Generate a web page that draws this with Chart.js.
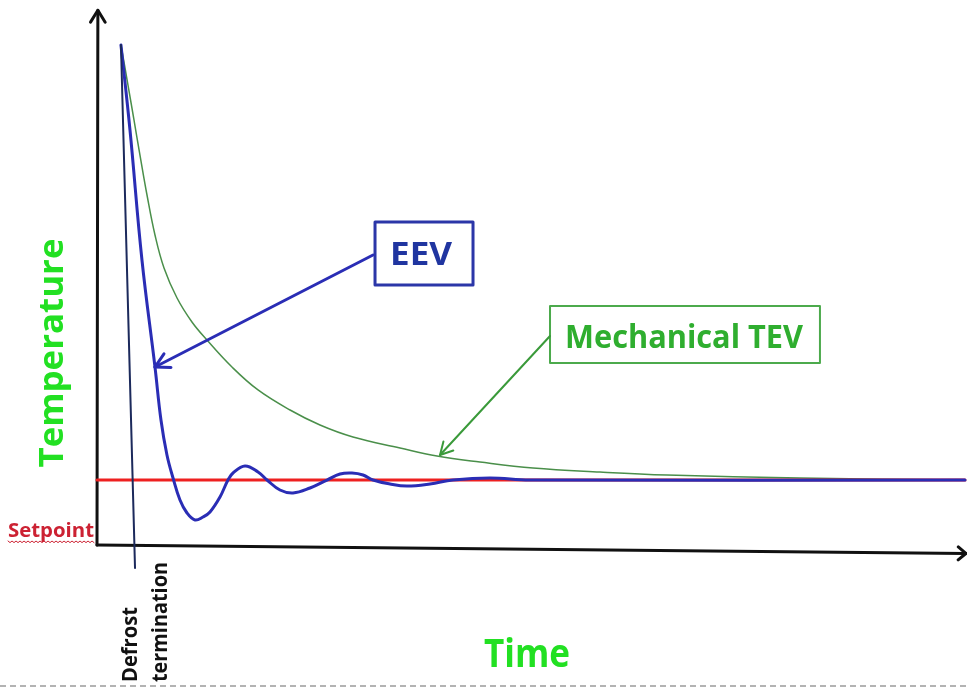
<!DOCTYPE html>
<html><head><meta charset="utf-8">
<script src="https://cdn.jsdelivr.net/npm/chart.js@4.4.1/dist/chart.umd.min.js"></script>
<style>html,body{margin:0;padding:0;background:#fff;}canvas{display:block;}</style>
</head><body>
<canvas id="c" width="967" height="688"></canvas>
<script>
// ---- Data (time and temperature in % of axis length) ----
const eevTime = [2.76, 3.80, 5.18, 6.68, 7.37, 8.06, 8.76, 9.56, 10.37, 11.29, 12.21, 13.02, 14.17, 15.09, 15.67, 17.05, 18.55, 19.59, 21.08, 22.58, 24.54, 26.50, 28.00, 29.38, 30.65, 31.80, 33.76, 35.71, 38.36, 41.01, 45.28, 49.88, 100];
const eevTemp = [94.34, 78.30, 53.77, 33.58, 23.58, 16.98, 12.64, 8.49, 6.04, 4.72, 5.28, 6.23, 9.06, 12.26, 13.58, 14.91, 13.77, 12.26, 10.38, 9.81, 10.75, 12.26, 13.40, 13.58, 13.21, 12.26, 11.51, 11.13, 11.51, 12.26, 12.64, 12.26, 12.26];
const tevTime = [2.76, 3.57, 4.26, 4.95, 5.76, 6.68, 7.72, 9.22, 10.94, 12.67, 15.55, 18.55, 22.24, 25.69, 29.49, 34.91, 39.17, 44.12, 50.23, 57.95, 65.67, 80.99, 100];
const tevTemp = [94.34, 86.79, 80.19, 73.58, 66.04, 58.49, 52.26, 46.60, 42.08, 38.68, 33.58, 29.25, 25.47, 22.64, 20.38, 18.30, 16.79, 15.66, 14.53, 13.77, 13.21, 12.64, 12.26];
const setpointTime = [0, 100];
const setpointTemp = [12.26, 12.26];
const defrostTime = [2.76, 4.38];
const defrostTemp = [94.34, -4.34];
const seriesNames = ['EEV', 'Mechanical TEV', 'Setpoint', 'Defrost termination'];

function pts(xs, ys) { return xs.map((x, i) => ({ x: x, y: ys[i] })); }

// ---- Annotation layout (in data units; sizes in px) ----
const annot = {
  eevBox: { x0: 32.03, x1: 43.32, y0: 60.94, y1: 49.06, color: '#2b36a8', lw: 3 },
  tevBox: { x0: 52.19, x1: 83.29, y0: 45.09, y1: 34.34, color: '#4caa4c', lw: 2 },
  eevArrow: { from: [31.80, 54.72], to: [6.68, 33.58], color: '#2a2db5', lw: 3, head: 16 },
  tevArrow: { from: [52.19, 39.43], to: [39.52, 16.98], color: '#3a9a3a', lw: 2, head: 14 },
  texts: [
    { text: 'EEV', x: 37.33, y: 52.74, rot: 0, cap: 23, width: 62, color: '#2035a0', align: 'center' },
    { text: 'Mechanical TEV', x: 67.63, y: 37.17, rot: 0, cap: 23, width: 238, color: '#2fae2f', align: 'center' },
    { text: 'Temperature', x: -3.92, y: 36.23, rot: -Math.PI / 2, cap: 24, width: 229, color: '#22e022', align: 'center' },
    { text: 'Time', x: 49.54, y: -23.02, rot: 0, cap: 28, width: 86, color: '#22e022', align: 'center' },
    { text: 'Setpoint', x: -10.25, y: 1.60, rot: 0, cap: 13.5, width: 86, color: '#cc2233', align: 'left', wavy: true },
    { text: 'Defrost', x: 4.61, y: -25.85, rot: -Math.PI / 2, cap: 15, width: 75, color: '#111111', align: 'left' },
    { text: 'termination', x: 8.06, y: -25.85, rot: -Math.PI / 2, cap: 15, width: 120, color: '#111111', align: 'left' }
  ]
};

function P(chart, x, y) {
  return [chart.scales.x.getPixelForValue(x), chart.scales.y.getPixelForValue(y)];
}
function arrowHead(ctx, tx, ty, fx, fy, len, ang) {
  const a = Math.atan2(fy - ty, fx - tx);
  ctx.beginPath();
  ctx.moveTo(tx + len * Math.cos(a + ang), ty + len * Math.sin(a + ang));
  ctx.lineTo(tx, ty);
  ctx.lineTo(tx + len * Math.cos(a - ang), ty + len * Math.sin(a - ang));
  ctx.stroke();
}

const deco = {
  id: 'deco',
  beforeDraw(chart) {
    const ctx = chart.ctx;
    ctx.save(); ctx.fillStyle = '#fff'; ctx.fillRect(0, 0, chart.width, chart.height); ctx.restore();
  },
  beforeDatasetsDraw(chart) {
    const ctx = chart.ctx;
    ctx.save();
    ctx.strokeStyle = '#111'; ctx.lineWidth = 3; ctx.lineCap = 'round'; ctx.lineJoin = 'round';
    const o = P(chart, 0, 0), yt = P(chart, 0.1, 100.9);
    ctx.beginPath(); ctx.moveTo(o[0], o[1]); ctx.lineTo(yt[0], yt[1]); ctx.stroke();
    arrowHead(ctx, yt[0], yt[1], o[0], o[1], 14, 0.55);
    const xt = P(chart, 100.1, -1.6);
    ctx.beginPath(); ctx.moveTo(o[0], o[1]); ctx.lineTo(xt[0], xt[1]); ctx.stroke();
    arrowHead(ctx, xt[0], xt[1], o[0], o[1], 10, 0.7);
    ctx.lineWidth = 1.5; ctx.strokeStyle = '#9a9a9a'; ctx.setLineDash([6, 4]); ctx.lineCap = 'butt';
    ctx.beginPath(); ctx.moveTo(0, chart.height - 2); ctx.lineTo(chart.width, chart.height - 2); ctx.stroke();
    ctx.restore();
  },
  afterDatasetsDraw(chart) {
    const ctx = chart.ctx;
    ctx.save();
    ctx.lineCap = 'round'; ctx.lineJoin = 'round';
    [annot.eevBox, annot.tevBox].forEach(b => {
      const a = P(chart, b.x0, b.y0), c = P(chart, b.x1, b.y1);
      ctx.fillStyle = '#fff';
      ctx.fillRect(a[0], a[1], c[0] - a[0], c[1] - a[1]);
      ctx.strokeStyle = b.color; ctx.lineWidth = b.lw;
      ctx.strokeRect(a[0], a[1], c[0] - a[0], c[1] - a[1]);
    });
    [annot.eevArrow, annot.tevArrow].forEach(r => {
      const f = P(chart, r.from[0], r.from[1]), t = P(chart, r.to[0], r.to[1]);
      ctx.strokeStyle = r.color; ctx.lineWidth = r.lw;
      ctx.beginPath(); ctx.moveTo(f[0], f[1]); ctx.lineTo(t[0], t[1]); ctx.stroke();
      arrowHead(ctx, t[0], t[1], f[0], f[1], r.head, 0.5);
    });
    annot.texts.forEach(t => {
      const p = P(chart, t.x, t.y);
      const size = t.cap / 0.714;
      ctx.save();
      ctx.font = 'bold ' + size.toFixed(1) + 'px "Open Sans", "Liberation Sans", sans-serif';
      const w = ctx.measureText(t.text).width;
      ctx.translate(p[0], p[1]);
      ctx.rotate(t.rot);
      ctx.scale(t.width / w, 1);
      ctx.textAlign = t.align; ctx.textBaseline = 'alphabetic';
      ctx.fillStyle = t.color;
      ctx.fillText(t.text, 0, 0);
      ctx.restore();
      if (t.wavy) {
        ctx.save();
        ctx.strokeStyle = t.color; ctx.lineWidth = 1;
        ctx.beginPath();
        const y0 = p[1] + 4.5;
        for (let x = 0; x <= t.width; x += 2) {
          const yy = y0 + ((x / 2) % 2 === 0 ? 0 : 1.6);
          if (x === 0) ctx.moveTo(p[0] + x, yy); else ctx.lineTo(p[0] + x, yy);
        }
        ctx.stroke();
        ctx.restore();
      }
    });
    ctx.restore();
  }
};

new Chart(document.getElementById('c'), {
  type: 'scatter',
  data: {
    datasets: [
      { label: seriesNames[3], data: pts(defrostTime, defrostTemp), showLine: true, borderColor: '#1c2a5c', borderWidth: 2, pointRadius: 0, tension: 0, clip: false, order: 0 },
      { label: seriesNames[0], data: pts(eevTime, eevTemp), showLine: true, borderColor: '#2a2db5', borderWidth: 3, pointRadius: 0, tension: 0.4, clip: false, order: 1 },
      { label: seriesNames[2], data: pts(setpointTime, setpointTemp), showLine: true, borderColor: '#ee2020', borderWidth: 3, pointRadius: 0, tension: 0, clip: false, order: 2 },
      { label: seriesNames[1], data: pts(tevTime, tevTemp), showLine: true, borderColor: '#4a8f4a', borderWidth: 1.5, pointRadius: 0, tension: 0.4, clip: false, order: 3 }
    ]
  },
  options: {
    responsive: false,
    devicePixelRatio: 1,
    animation: false,
    layout: { padding: { left: 97, top: 15, right: 2, bottom: 143 } },
    plugins: { legend: { display: false }, tooltip: { enabled: false } },
    events: [],
    scales: {
      x: { type: 'linear', min: 0, max: 100, display: false },
      y: { type: 'linear', min: 0, max: 100, display: false }
    },
    elements: { line: { borderCapStyle: 'round', borderJoinStyle: 'round' } }
  },
  plugins: [deco]
});
</script>
</body></html>
